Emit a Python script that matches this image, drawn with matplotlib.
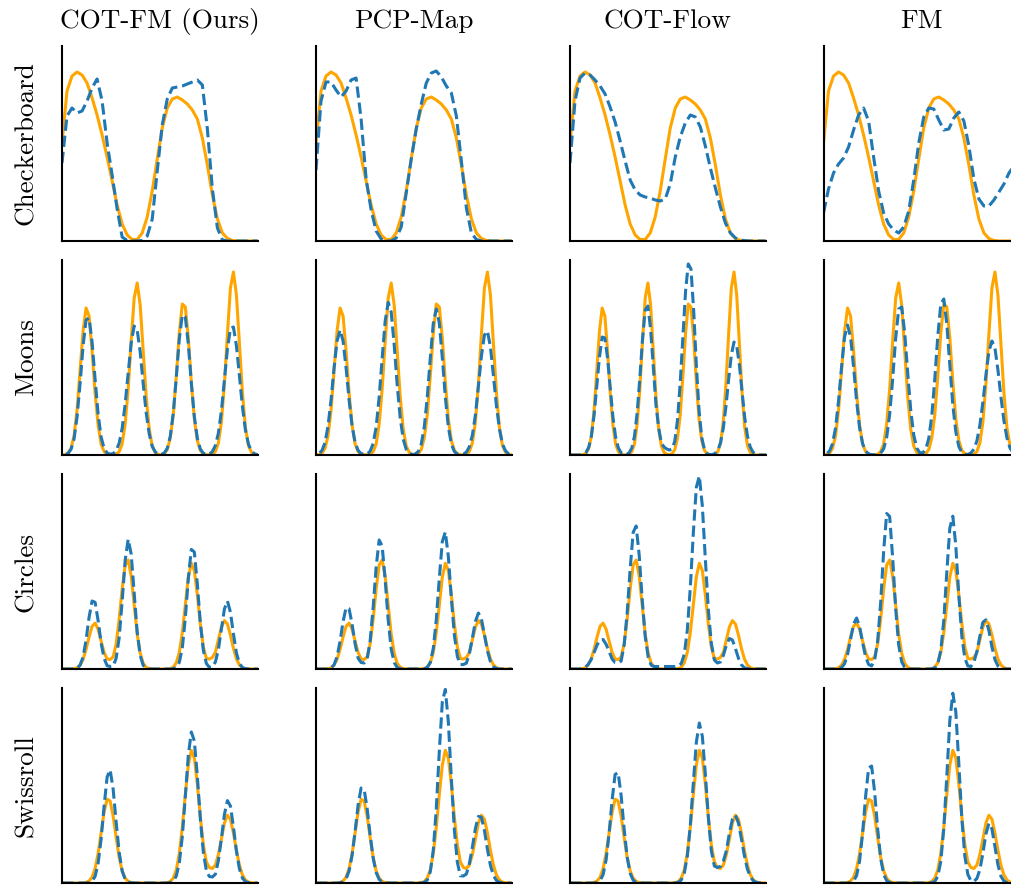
import matplotlib.pyplot as plt
import numpy as np

plt.rcParams['font.family'] = 'cmr10'

methods = ['COT-FM (Ours)', 'PCP-Map', 'COT-Flow', 'FM']
datasets = ['Checkerboard', 'Moons', 'Circles', 'Swissroll']

# evaluation grids for the marginal densities
x_checker = np.linspace(0, 1, 40)
x_moons = np.linspace(-0.0615, 1.0615, 74)
x_circles = np.linspace(0, 1, 66)
x_swiss = np.linspace(0, 1, 66)

# ---- Checkerboard ----
checker_true = [98, 150, 165, 169, 166, 158, 143, 126, 106, 84,
                60, 36, 17, 6, 1.5, 1.5, 8, 24, 50, 82,
                113, 133, 142, 144, 141, 137, 131, 122, 103, 76,
                46, 22, 8, 2.5, 0.5, 0, 0, 0, 0, 0]
checker_cotfm = [78, 125, 133, 128, 130, 140, 153, 162, 140, 98,
                 66, 32, 4, 0.5, 0, 0, 0.5, 5, 22, 70,
                 116, 142, 153, 154, 155, 157, 159, 161, 156, 112,
                 52, 13, 1, 0, 0, 0, 0, 0, 0, 0]
checker_pcpmap = [71, 140, 159, 159, 151, 144, 150, 161, 163, 122,
                  62, 31, 10, 2, 0, 0, 3, 14, 48, 82,
                  112, 137, 158, 168, 170, 164, 155, 148, 125, 80,
                  33, 8, 1.5, 0, 0, 0, 0, 0, 0, 0]
checker_cotflow = [78, 140, 163, 168, 166, 161, 155, 147, 134, 119,
                   100, 80, 61, 51, 46, 44, 43, 41, 40, 42,
                   57, 84, 104, 118, 126, 124, 114, 95, 73, 53,
                   34, 18, 8, 3, 1, 0.3, 0, 0, 0, 0]
checker_fm = [28, 52, 68, 77, 83, 94, 111, 126, 133, 120,
              84, 50, 28, 17, 11, 8, 14, 30, 61, 98,
              124, 133, 132, 121, 111, 112, 123, 129, 120, 95,
              62, 42, 35, 35, 41, 49, 57, 68, 75, 82]

# ---- Moons ----
moons_true = [0, 0, 0, 0, 0, 0.4, 1.8, 6.7, 19, 45, 84,
              124, 147, 139, 104, 62, 30, 11, 3.4, 0.8, 0.2, 0.1,
              0.8, 3.3, 11, 31, 66, 114, 157, 172, 150, 104, 58,
              26, 9, 2.6, 0.6, 0.3, 1.4, 5.4, 17, 40, 79, 122,
              151, 148, 117, 73, 36, 14.5, 4.6, 1.2, 0.2, 0.2, 0.8,
              3.5, 12, 33, 71, 121, 167, 183, 160, 111, 62, 27,
              9.5, 2.7, 0.6, 0.1, 0, 0, 0, 0]
moons_cotfm = [0, 0, 0, 0, 0, 0.4, 1.6, 5.7, 16, 38, 71,
               109, 135, 137, 113, 76, 41, 18, 6.6, 2, 0.9, 1.4,
               4.4, 11.8, 26.7, 51, 82, 112, 129, 125, 103, 71, 42,
               21, 8.6, 3, 0.9, 0.6, 2, 6.7, 18.7, 42, 77.5, 116,
               140, 138, 111, 72, 38.5, 16.6, 5.9, 1.7, 0.7, 1, 3.4,
               9.5, 22, 44, 75, 106, 126.5, 128, 109, 79, 48, 24.7,
               10.8, 4, 1.2, 0.3, 0, 0, 0, 0]
moons_pcpmap = [0, 0, 0, 0, 0.3, 1.4, 4.6, 12.5, 29, 55, 87,
                114, 125, 114, 87, 55, 29, 12.5, 4.6, 1.4, 0.6, 1,
                3.8, 11.4, 28, 58, 97, 134, 152.6, 143, 110, 70, 37,
                15.8, 5.6, 1.6, 0.4, 0.9, 3.5, 11, 28, 58, 97, 132,
                146, 132, 97, 58, 28, 11, 3.5, 0.9, 0.2, 0.9, 2.9,
                8.3, 20, 40, 69, 99, 120, 124, 108, 79, 49, 26,
                11, 4.2, 1.3, 0.35, 0, 0, 0, 0]
moons_cotflow = [0, 0, 0, 0, 0.1, 0.7, 2.6, 7.7, 19, 40, 69,
                 98, 118, 117, 97, 67, 38, 18, 7.2, 2.4, 0.7, 0.5,
                 2.1, 6.9, 18.7, 42, 77, 116, 145, 149, 126, 88, 50,
                 27, 12, 8, 6, 5, 6, 14, 35, 72, 118, 164,
                 191, 186, 145, 90, 44.6, 17.6, 5.6, 1.4, 0.3, 0.5, 1.7,
                 4.9, 12.4, 26.6, 48.5, 75.6, 100, 113, 109, 90, 63, 37,
                 19, 8.2, 3, 1, 0.25, 0, 0, 0]
moons_fm = [0, 0, 0, 0, 0.2, 1.1, 3.9, 11.4, 27, 54, 88,
            118, 130, 118, 88, 54, 27, 11.4, 3.9, 1.1, 0.3, 0.1,
            0.4, 1.8, 6.2, 17.5, 40.6, 76, 117, 146, 148, 122, 82,
            45, 20, 7, 2.4, 2.1, 5.7, 16.6, 39, 76, 119, 151,
            156, 131, 90, 50, 23, 8.4, 2.5, 0.6, 0.6, 2, 5.8,
            14, 30, 53, 80, 103.5, 114, 107, 85, 58, 34, 17,
            7, 2.5, 0.8, 0.2, 0, 0, 0, 0]

# ---- Circles ----
circles_true = [0, 0, 0, 0, 0.3, 1.2, 3.8, 9.6, 19.6, 32, 42.7,
                45.9, 39.8, 28, 16.5, 10, 9.5, 12, 25, 49.6, 80, 104,
                109, 93, 64, 35, 15.8, 5.7, 1.7, 0.4, 0.1, 0, 0,
                0, 0, 0.1, 0.4, 1.8, 6.2, 16.6, 36.5, 64, 92, 105.7,
                98.5, 74, 45, 22, 10.5, 10, 11.5, 16.7, 29.4, 42, 48.4,
                45, 34, 20.6, 10, 4, 1.3, 0.3, 0.1, 0, 0, 0]
circles_cotfm = [0, 0, 0, 0, 0, 0.9, 3.8, 12, 29, 51.6, 68,
                 66.7, 48.6, 26, 10.6, 3.3, 2.5, 2.8, 10.7, 31, 67.5, 108.6,
                 129.8, 115, 76, 37, 13.5, 3.6, 0.7, 0.1, 0, 0, 0,
                 0, 0, 0, 0, 0.3, 1.5, 6.6, 21, 51, 90.7, 119.6,
                 117, 85, 46, 18.6, 5.5, 1.6, 2.1, 7, 19.5, 40, 60,
                 68, 56.8, 35, 16, 5.6, 1.4, 0.3, 0, 0, 0, 0]
circles_pcpmap = [0, 0, 0, 0, 0, 1, 4.2, 12.3, 27.8, 47.4, 61.4,
                  60.2, 44.8, 25.3, 10.8, 6.5, 6, 9.7, 28, 61.6, 102, 129,
                  123, 89, 49, 20, 6.4, 1.5, 0.3, 0, 0, 0, 0,
                  0, 0, 0, 0.3, 1.6, 6.6, 20.7, 49.6, 91, 127.5, 137,
                  112.6, 70.8, 34, 12.5, 4.5, 4.5, 5.9, 15.5, 31, 47.6, 56,
                  50, 34.5, 18, 7.3, 2.2, 0.5, 0, 0, 0, 0, 0]
circles_cotflow = [0, 0, 0, 0, 0.6, 1.7, 4.4, 9.3, 16.4, 24, 29,
                   29.5, 24.8, 17.4, 10, 6.5, 6, 7.9, 24, 56, 100, 136.6,
                   143, 114, 70, 32.8, 11.8, 3.8, 2.5, 2.5, 2.5, 2.5, 2.5,
                   2.5, 2.5, 2.5, 3, 5.5, 14.8, 38.8, 81.5, 136, 181.6, 193,
                   163, 110, 59, 25.4, 9, 6, 7, 13.8, 23.8, 30.5, 29,
                   20.5, 10.8, 4.2, 1.2, 0.3, 0, 0, 0, 0, 0, 0]
circles_fm = [0, 0, 0, 0, 0, 0.3, 1.4, 5.3, 14.6, 29.8, 45,
              51, 42.6, 26.5, 12.2, 4.5, 3.1, 8.8, 27.7, 66, 118, 155.5,
              152.5, 111, 60, 24, 7.2, 1.6, 0.3, 0, 0, 0, 0,
              0, 0, 0, 0.2, 1.1, 5.2, 18.6, 49, 97, 141, 152.8,
              122.8, 73.3, 32.5, 10.7, 3, 2.5, 6.8, 17.4, 33, 46.8, 49.2,
              38.4, 22, 9.5, 3, 0.7, 0.1, 0, 0, 0, 0, 0]

# ---- Swissroll ----
swiss_true = [0, 0, 0, 0, 0, 0, 0, 0.1, 0.6, 2, 5.8,
              14.4, 29.4, 50, 71, 83.8, 82, 67, 45.7, 25.8, 12.2, 4.8,
              1.6, 0.4, 0.1, 0, 0, 0, 0, 0, 0, 0, 0,
              0, 0.1, 0.4, 1.5, 4.9, 13, 29.5, 55.7, 88.5, 118, 132.7,
              125, 99, 66, 38, 21, 15.5, 14.5, 18, 28.5, 44, 60,
              67.8, 63.8, 50, 32.5, 17.7, 8, 3, 0.9, 0.25, 0, 0]
swiss_cotfm = [0, 0, 0, 0, 0, 0, 0, 0, 0, 0.4, 1.8,
               6.6, 19.4, 43.8, 77, 106, 113.2, 94, 61, 30.9, 12.1, 3.7,
               0.9, 0.2, 0, 0, 0, 0, 0, 0, 0, 0, 0,
               0, 0, 0, 0.4, 1.8, 6.9, 20, 46.5, 86.4, 128, 151,
               142, 106.7, 64, 30.4, 12.3, 6.5, 6, 8.8, 22.5, 44.5, 68.6,
               82.4, 77, 56, 31.9, 14, 4.8, 1.3, 0.3, 0, 0, 0]
swiss_pcpmap = [0, 0, 0, 0, 0, 0, 0, 0, 0.3, 1.2, 4.2,
                12, 27.6, 51.6, 78, 95, 93.7, 74.7, 48, 25, 10.5, 3.6,
                1, 0.2, 0, 0, 0, 0, 0, 0, 0, 0, 0,
                0, 0, 0, 0.6, 3, 11.3, 33, 75, 132, 181, 193.6,
                161, 104.5, 53, 20.7, 7.2, 7, 9, 19.4, 36, 54.6, 66.6,
                65.7, 52.4, 33.7, 17.5, 7.3, 2.5, 0.7, 0.15, 0, 0, 0]
swiss_cotflow = [0, 0, 0, 0, 0, 0, 0, 0, 0, 0.5, 2.4,
                 8.3, 23, 49.6, 83, 108.6, 110.4, 87.5, 54, 26, 9.7, 2.8,
                 0.6, 0.1, 0, 0, 0, 0, 0, 0, 0, 0, 0,
                 0, 0, 0, 0.7, 3, 10, 26.7, 57.5, 100, 140.6, 160,
                 146.7, 109, 65.3, 32, 17, 15.5, 16.5, 22, 32.5, 50, 63.8,
                 67.8, 60, 44, 27, 13.8, 5.9, 2.1, 0.6, 0.15, 0, 0]
swiss_fm = [0, 0, 0, 0, 0, 0, 0, 0, 0, 0.4, 1.9,
            7.4, 22, 49.7, 86.5, 115, 117, 91, 54.4, 24.8, 8.7, 2.3,
            0.5, 0, 0, 0, 0, 0, 0, 0, 0, 0, 0,
            0, 0, 0, 0.3, 1.5, 6.6, 21.6, 54.8, 107, 162.5, 189.8,
            171, 119, 64, 26.6, 8.5, 2.3, 1.5, 4.5, 13.5, 29.8, 49,
            59.8, 54, 36.4, 18.2, 6.7, 1.9, 0.4, 0, 0, 0, 0]

rows = [
    (x_checker, checker_true, [checker_cotfm, checker_pcpmap, checker_cotflow, checker_fm]),
    (x_moons, moons_true, [moons_cotfm, moons_pcpmap, moons_cotflow, moons_fm]),
    (x_circles, circles_true, [circles_cotfm, circles_pcpmap, circles_cotflow, circles_fm]),
    (x_swiss, swiss_true, [swiss_cotfm, swiss_pcpmap, swiss_cotflow, swiss_fm]),
]

# COT-Flow's moons samples spread wider, so its window is wider
xlims = {(1, 2): (-0.0608, 1.0569)}

W, H = 1011, 886
col_left = [62, 316, 570, 823.5]
row_top = [46, 260, 474, 688]
box_w, box_h = 195.5, 195

fig = plt.figure(figsize=(W / 100, H / 100), dpi=100)

for r, (x, true_vals, est_list) in enumerate(rows):
    for c, est_vals in enumerate(est_list):
        ax = fig.add_axes([col_left[c] / W, 1 - (row_top[r] + box_h) / H,
                           box_w / W, box_h / H])
        ax.plot(x, true_vals, color='orange', lw=2.2)
        ax.plot(x, est_vals, color='#1f77b4', lw=2.2, ls='--')
        ax.set_xlim(*xlims.get((r, c), (0, 1)))
        ax.set_ylim(0, 195)
        ax.set_xticks([])
        ax.set_yticks([])
        for side in ['top', 'right']:
            ax.spines[side].set_visible(False)
        for side in ['left', 'bottom']:
            ax.spines[side].set_linewidth(1.5)
        if r == 0:
            fig.text((col_left[c] + box_w / 2) / W, 1 - 28.3 / H, methods[c],
                     ha='center', va='baseline', fontsize=19.6)
    fig.text(33 / W, 1 - (row_top[r] + box_h / 2) / H, datasets[r],
             rotation=90, rotation_mode='anchor', ha='center', va='baseline',
             fontsize=19.6)

fig.savefig('out.png', dpi=100)
